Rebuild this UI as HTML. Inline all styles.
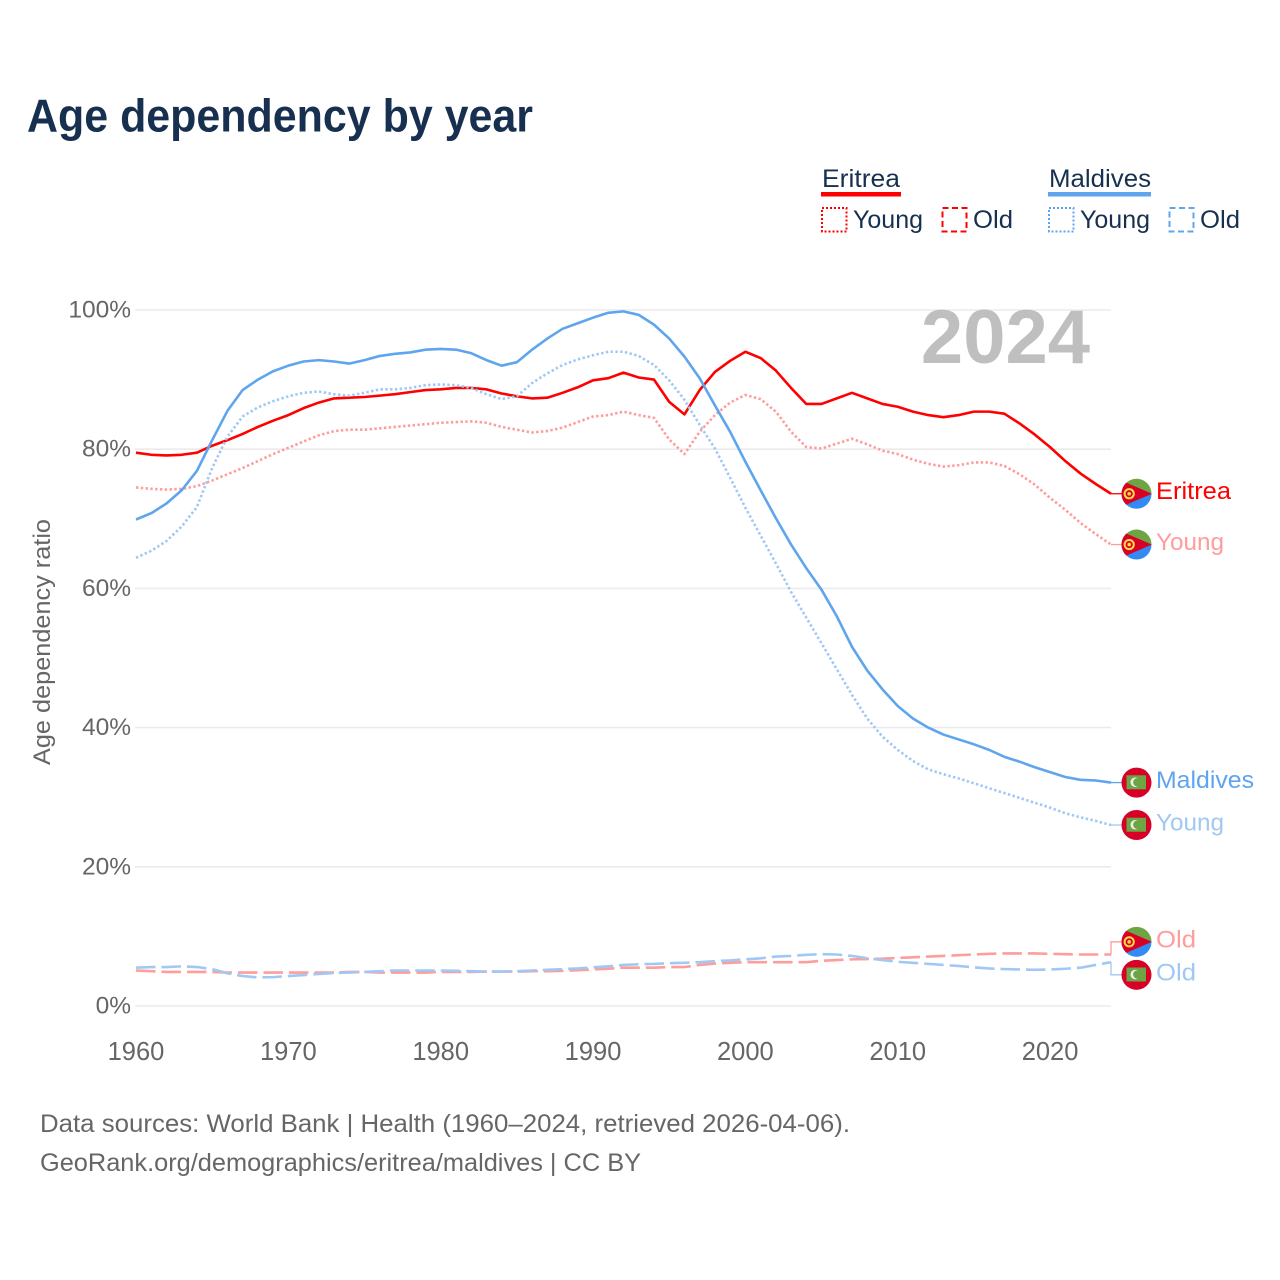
<!DOCTYPE html>
<html lang="en">
<head>
<meta charset="utf-8">
<title>Age dependency by year</title>
<style>
html,body{margin:0;padding:0;background:#fff;width:1280px;height:1280px;overflow:hidden}
svg{display:block}
text{font-family:"Liberation Sans",sans-serif}
</style>
</head>
<body>
<svg id="chart" xmlns="http://www.w3.org/2000/svg" width="1280" height="1280" viewBox="0 0 1280 1280">
  <defs>
    <clipPath id="flag-clip"><circle cx="0" cy="0" r="15"/></clipPath>
  </defs>
  <rect x="0" y="0" width="1280" height="1280" fill="#fff"/>
  <text x="27" y="131.5" font-size="46" font-weight="700" fill="#17304f" textLength="506" lengthAdjust="spacingAndGlyphs">Age dependency by year</text>

  <g>
    <text x="822" y="187" font-size="25" fill="#17304f" textLength="78" lengthAdjust="spacingAndGlyphs">Eritrea</text>
    <rect x="821" y="192" width="80" height="4.5" fill="#ff0000"/>
    <rect x="822" y="208" width="24.5" height="23.5" fill="none" stroke="#ff0000" stroke-width="2" stroke-dasharray="2 2"/>
    <text x="853" y="228" font-size="25" fill="#17304f" textLength="70" lengthAdjust="spacingAndGlyphs">Young</text>
    <rect x="942.5" y="208" width="24" height="23.5" fill="none" stroke="#ff0000" stroke-width="2" stroke-dasharray="6 3.5"/>
    <text x="973" y="228" font-size="25" fill="#17304f" textLength="40" lengthAdjust="spacingAndGlyphs">Old</text>

    <text x="1049" y="187" font-size="25" fill="#17304f" textLength="102" lengthAdjust="spacingAndGlyphs">Maldives</text>
    <rect x="1048" y="192" width="103" height="4.5" fill="#5fa5ee"/>
    <rect x="1049" y="208" width="24.5" height="23.5" fill="none" stroke="#5fa5ee" stroke-width="2" stroke-dasharray="2 2"/>
    <text x="1080" y="228" font-size="25" fill="#17304f" textLength="70" lengthAdjust="spacingAndGlyphs">Young</text>
    <rect x="1169.5" y="208" width="24" height="23.5" fill="none" stroke="#5fa5ee" stroke-width="2" stroke-dasharray="6 3.5"/>
    <text x="1200" y="228" font-size="25" fill="#17304f" textLength="40" lengthAdjust="spacingAndGlyphs">Old</text>
  </g>

  <g id="grid"></g>
  <text id="year-watermark" x="1090" y="363" font-size="76" font-weight="700" fill="#bfbfbf" text-anchor="end"></text>
  <g id="y-ticks"></g>
  <g id="x-ticks"></g>
  <text transform="translate(50,642) rotate(-90)" font-size="24" fill="#666666" text-anchor="middle" textLength="246" lengthAdjust="spacingAndGlyphs">Age dependency ratio</text>
  <g id="series"></g>
  <g id="end-labels"></g>

  <text x="40" y="1132" font-size="25" fill="#666666" textLength="810" lengthAdjust="spacingAndGlyphs">Data sources: World Bank | Health (1960–2024, retrieved 2026-04-06).</text>
  <text x="40" y="1171" font-size="25" fill="#666666" textLength="601" lengthAdjust="spacingAndGlyphs">GeoRank.org/demographics/eritrea/maldives | CC BY</text>
</svg>
<script>
const firstYear = 1960;
const xTickYears = [1960, 1970, 1980, 1990, 2000, 2010, 2020];
const yTickValues = [0, 20, 40, 60, 80, 100];

const eritreaTotal = [79.5,79.2,79.1,79.2,79.5,80.5,81.3,82.2,83.2,84.1,84.9,85.9,86.7,87.3,87.4,87.5,87.7,87.9,88.2,
  88.5,88.6,88.8,88.8,88.6,88.0,87.6,87.3,87.4,88.1,88.9,89.9,90.2,91.0,90.3,90.0,86.8,85.0,88.5,91.1,
  92.7,94.0,93.1,91.3,88.8,86.5,86.5,87.3,88.1,87.3,86.5,86.1,85.4,84.9,84.6,84.9,85.4,85.4,85.1,83.7,82.1,80.3,78.3,76.5,75.0,73.6];

const eritreaYoung = [74.5,74.3,74.2,74.3,74.7,75.5,76.4,77.3,78.3,79.3,80.2,81.1,82.0,82.6,82.8,82.8,83.0,83.2,83.4,
  83.6,83.8,83.9,84.0,83.8,83.2,82.8,82.4,82.6,83.1,83.9,84.7,84.9,85.4,84.9,84.5,81.4,79.3,82.5,84.9,
  86.7,87.8,87.2,85.4,82.5,80.3,80.1,80.8,81.5,80.7,79.8,79.3,78.5,77.9,77.5,77.7,78.1,78.1,77.6,76.4,74.9,73.0,71.3,69.4,67.8,66.3];

const eritreaOld = [5.1,5.0,4.9,4.9,4.9,4.9,4.8,4.8,4.8,4.8,4.8,4.8,4.8,4.8,4.9,4.9,4.8,4.8,4.8,4.8,
  4.9,4.9,4.9,4.95,4.95,4.95,5.0,5.0,5.05,5.15,5.25,5.35,5.5,5.5,5.5,5.6,5.6,5.9,6.1,6.2,
  6.3,6.3,6.3,6.3,6.3,6.5,6.6,6.7,6.75,6.8,6.9,7.0,7.1,7.2,7.3,7.4,7.5,7.55,7.55,7.55,7.5,7.45,7.4,7.4,7.4];

const maldivesTotal = [69.9,70.8,72.2,74.1,76.9,81.3,85.5,88.5,90.0,91.2,92.0,92.6,92.8,92.6,92.3,92.8,93.4,93.7,93.9,
  94.3,94.4,94.3,93.8,92.8,92.0,92.5,94.3,95.9,97.3,98.1,98.9,99.6,99.8,99.3,97.9,95.9,93.3,90.2,86.3,
  82.5,78.2,74.1,70.1,66.3,62.9,59.8,56.0,51.6,48.2,45.5,43.1,41.3,40.0,39.0,38.3,37.6,36.8,35.8,35.1,34.3,33.6,32.9,32.5,32.4,32.1];

const maldivesYoung = [64.4,65.4,66.8,68.9,71.7,77.3,81.8,84.7,86.0,86.9,87.6,88.1,88.3,87.9,87.7,88.1,88.6,88.6,88.8,
  89.2,89.3,89.2,88.8,87.9,87.2,87.6,89.5,90.9,92.1,92.9,93.5,94.0,94.0,93.4,92.1,89.9,87.1,83.5,80.1,
  75.9,71.6,67.6,63.6,59.5,55.8,52.1,48.4,44.7,41.3,38.7,36.8,35.2,34.0,33.3,32.7,32.0,31.3,30.6,29.9,29.2,28.5,27.7,27.1,26.6,26.0];

const maldivesOld = [5.5,5.6,5.6,5.7,5.6,5.3,4.7,4.3,4.1,4.15,4.3,4.45,4.6,4.75,4.8,4.9,5.0,5.1,5.1,5.1,
  5.1,5.05,5.0,4.95,4.95,5.0,5.1,5.2,5.3,5.4,5.55,5.7,5.9,6.0,6.05,6.15,6.2,6.3,6.45,6.55,
  6.7,6.85,7.1,7.2,7.35,7.45,7.4,7.2,6.85,6.6,6.35,6.2,6.05,5.9,5.75,5.55,5.4,5.3,5.25,5.2,5.25,5.35,5.5,5.9,6.3];

const SVG_NS = 'http://www.w3.org/2000/svg';
const plot = { left: 136, right: 1111, top: 310, bottom: 1006 };
const lastYear = firstYear + eritreaTotal.length - 1;

function xScale(year) {
  return plot.left + (year - firstYear) * (plot.right - plot.left) / (lastYear - firstYear);
}
function yScale(value) {
  return plot.bottom - value * (plot.bottom - plot.top) / 100;
}
function make(tag, attrs, parent) {
  const el = document.createElementNS(SVG_NS, tag);
  for (const k in attrs) el.setAttribute(k, attrs[k]);
  parent.appendChild(el);
  return el;
}

const gridGroup = document.getElementById('grid');
const yTickGroup = document.getElementById('y-ticks');
yTickValues.forEach(function (v) {
  const line = make('line', { x1: plot.left - 1, x2: plot.right, y1: yScale(v), y2: yScale(v), stroke: '#ebebeb', 'stroke-width': 1.6 }, gridGroup);
  
  
  const label = make('text', { x: 131, y: yScale(v) + 7.5, 'font-size': 24.5, fill: '#666666', 'text-anchor': 'end' }, yTickGroup);
  label.textContent = v + '%';
  
  
});

const xTickGroup = document.getElementById('x-ticks');
xTickYears.forEach(function (yr) {
  const label = make('text', { x: xScale(yr), y: 1060, 'font-size': 25.5, fill: '#666666', 'text-anchor': 'middle' }, xTickGroup);
  label.textContent = String(yr);
  
  
});

document.getElementById('year-watermark').textContent = String(lastYear);

const DOT = '2.4 2.4';
const DASH = '19.5 6';
const seriesList = [
  { key: 'eritrea-young', values: eritreaYoung, color: '#ff9c9c', dash: DOT, label: 'Young', flag: 'er' },
  { key: 'eritrea-old', values: eritreaOld, color: '#ff9c9c', dash: DASH, label: 'Old', flag: 'er' },
  { key: 'eritrea-total', values: eritreaTotal, color: '#ff0000', dash: null, label: 'Eritrea', flag: 'er' },
  { key: 'maldives-young', values: maldivesYoung, color: '#a0c8f4', dash: DOT, label: 'Young', flag: 'mv' },
  { key: 'maldives-old', values: maldivesOld, color: '#a0c8f4', dash: DASH, label: 'Old', flag: 'mv' },
  { key: 'maldives-total', values: maldivesTotal, color: '#5fa5ee', dash: null, label: 'Maldives', flag: 'mv' }
];

const seriesGroup = document.getElementById('series');
seriesList.forEach(function (s) {
  const d = s.values.map(function (v, i) {
    return (i ? 'L' : 'M') + xScale(firstYear + i).toFixed(2) + ' ' + yScale(v).toFixed(2);
  }).join(' ');
  const path = make('path', { d: d, fill: 'none', stroke: s.color, 'stroke-width': 2.6, 'stroke-linejoin': 'round' }, seriesGroup);
  if (s.dash) path.setAttribute('stroke-dasharray', s.dash);
  
  
});

/* End labels: resolve collisions so that labels stay at least minGap apart */
const minGap = 33;
const placed = seriesList.map(function (s) {
  const endY = yScale(s.values[s.values.length - 1]);
  return { s: s, endY: endY, y: endY };
}).sort(function (a, b) { return a.endY - b.endY; });
for (let i = 1; i < placed.length; i++) {
  const gap = placed[i].y - placed[i - 1].y;
  if (gap < minGap) {
    const mid = (placed[i].y + placed[i - 1].y) / 2;
    placed[i - 1].y = mid - minGap / 2;
    placed[i].y = mid + minGap / 2;
  }
}

function drawEritreaFlag(g) {
  make('rect', { x: -16, y: -16, width: 32, height: 16, fill: '#6da544' }, g);
  make('rect', { x: -16, y: 0, width: 32, height: 16, fill: '#338af3' }, g);
  make('path', { d: 'M15.5 0 L-16 -13.5 L-16 13.5 Z', fill: '#d80027' }, g);
  make('circle', { cx: -7.3, cy: 0, r: 4.6, fill: 'none', stroke: '#ffda44', 'stroke-width': 2 }, g);
  make('circle', { cx: -7.3, cy: 0, r: 1.8, fill: '#ffda44' }, g);
}
function drawMaldivesFlag(g) {
  make('rect', { x: -16, y: -16, width: 32, height: 32, fill: '#d80027' }, g);
  make('rect', { x: -10, y: -7.3, width: 19.5, height: 14, fill: '#6da544' }, g);
  make('circle', { cx: -1.2, cy: -0.3, r: 4.8, fill: '#f0f0f0' }, g);
  make('circle', { cx: 0.8, cy: -0.3, r: 4.2, fill: '#6da544' }, g);
}

const labelGroup = document.getElementById('end-labels');
const flagX = 1136.5;
placed.forEach(function (p) {
  const s = p.s;
  const leader = make('path', {
    d: Math.abs(p.y - p.endY) < 1
      ? 'M' + plot.right + ' ' + p.endY.toFixed(2) + ' H1122'
      : 'M' + plot.right + ' ' + p.endY.toFixed(2) + ' V' + p.y.toFixed(2) + ' H1122',
    fill: 'none', stroke: s.color, 'stroke-width': 1.3
  }, labelGroup);
  
  

  const flag = make('g', { transform: 'translate(' + flagX + ',' + p.y.toFixed(2) + ')', 'clip-path': 'url(#flag-clip)' }, labelGroup);
  
  
  if (s.flag === 'er') drawEritreaFlag(flag); else drawMaldivesFlag(flag);

  const widths = { Eritrea: 75, Maldives: 98, Young: 68, Old: 40 };
  const text = make('text', {
    x: 1156, y: (p.y + 5.5).toFixed(2), 'font-size': 24.5, fill: s.color,
    textLength: widths[s.label], lengthAdjust: 'spacingAndGlyphs'
  }, labelGroup);
  text.textContent = s.label;
  
  
});
</script>
</body>
</html>
